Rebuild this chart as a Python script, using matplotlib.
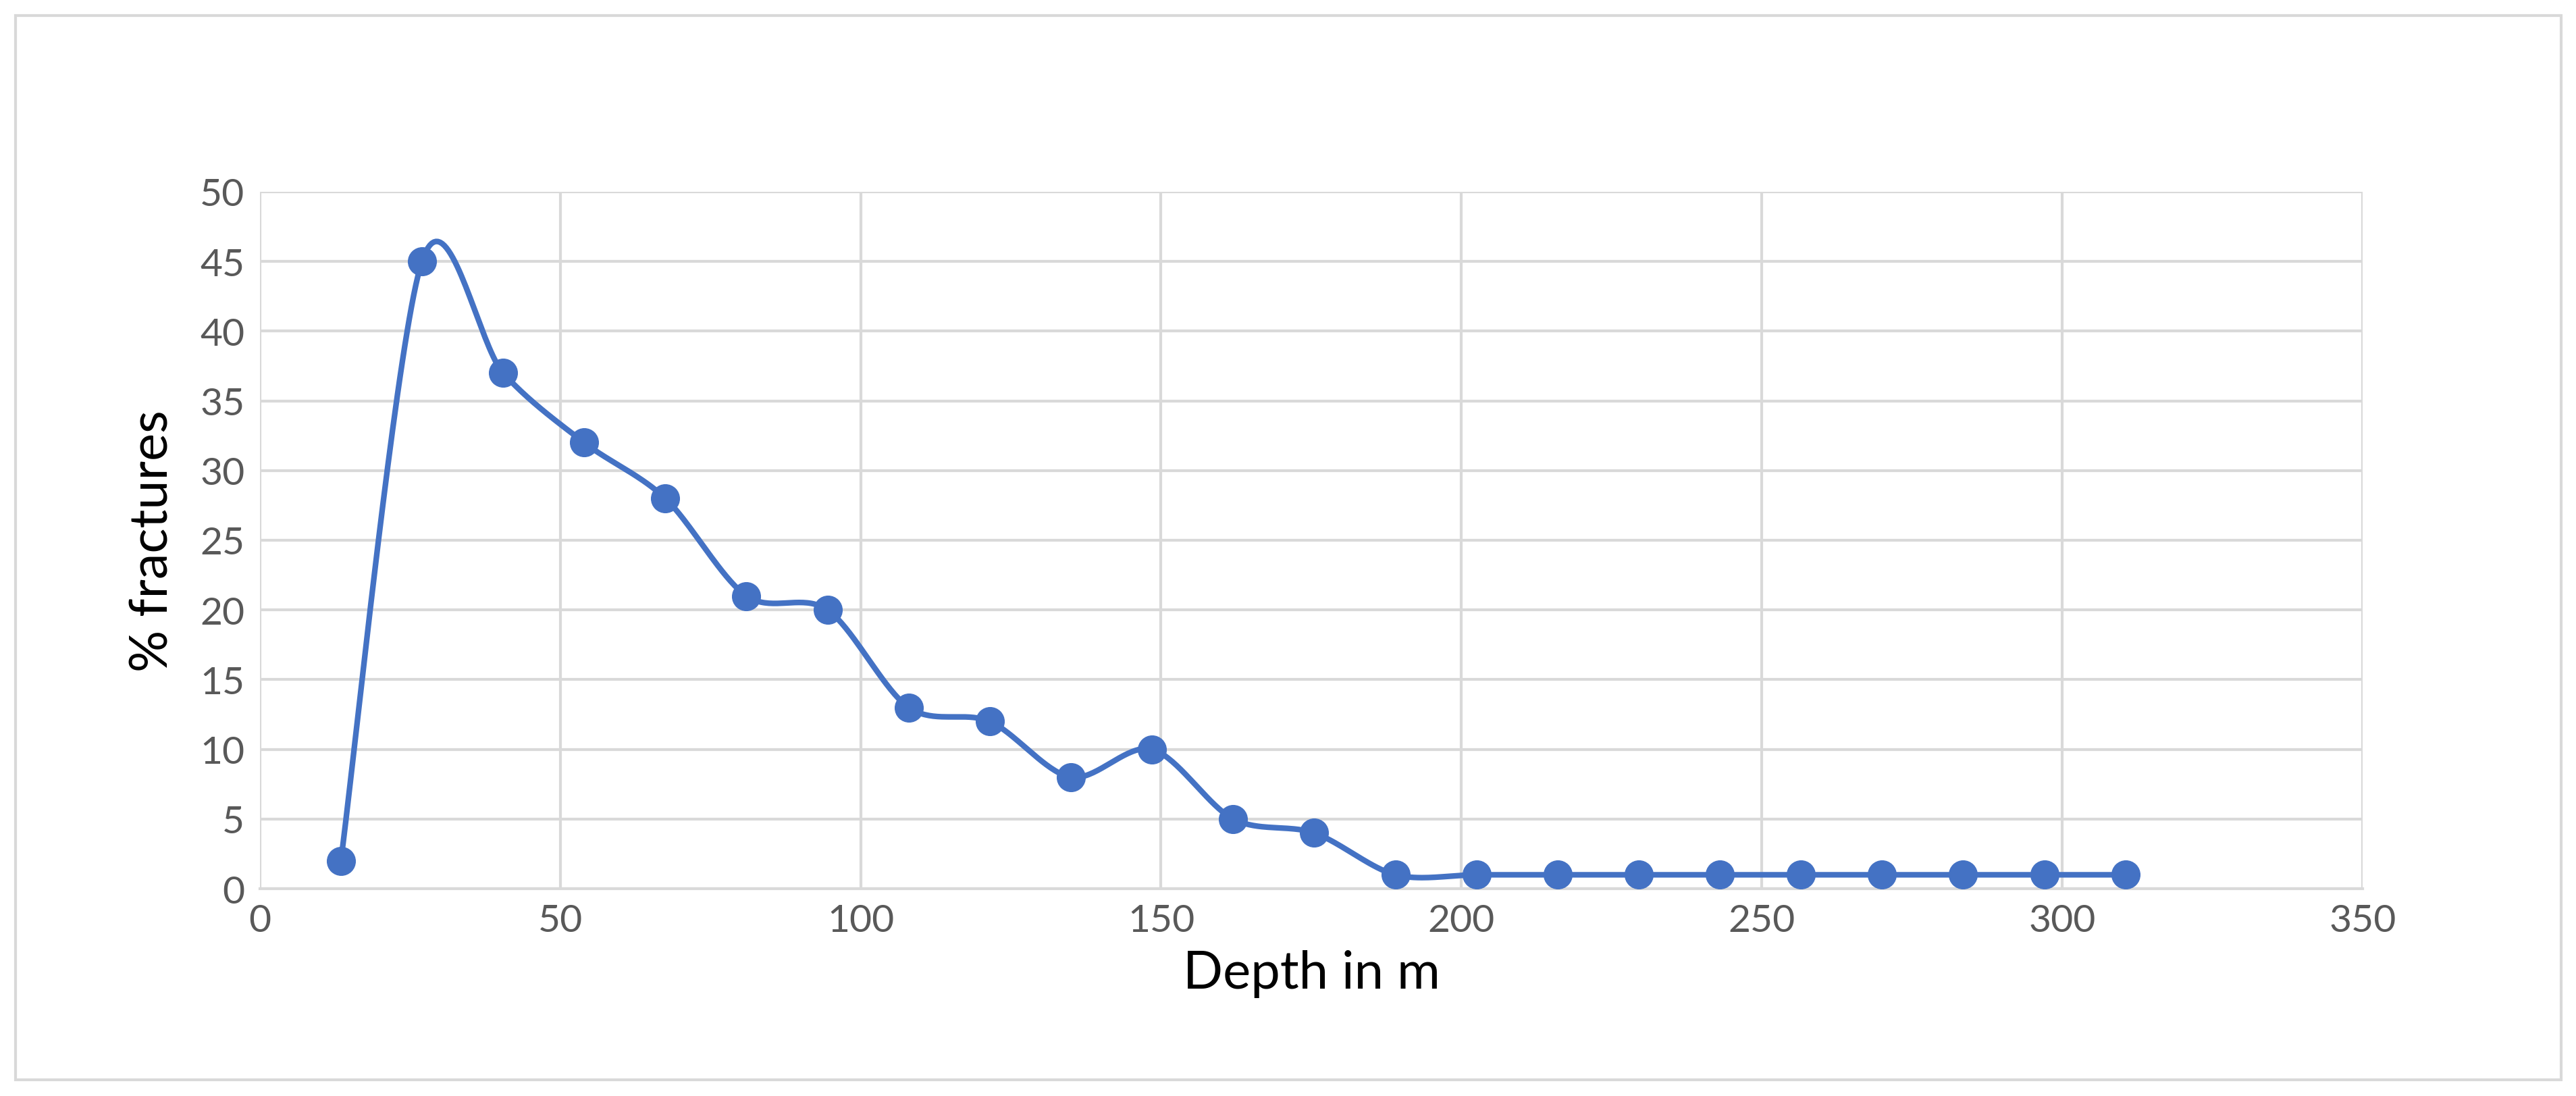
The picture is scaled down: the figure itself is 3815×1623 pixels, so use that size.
import numpy as np
import matplotlib
matplotlib.use("Agg")
import matplotlib.pyplot as plt
from matplotlib.patches import Rectangle

depth = [13.5, 27, 40.5, 54, 67.5, 81, 94.5, 108, 121.5, 135, 148.5, 162, 175.5,
         189, 202.5, 216, 229.5, 243, 256.5, 270, 283.5, 297, 310.5]
fractures = [2, 45, 37, 32, 28, 21, 20, 13, 12, 8, 10, 5, 4,
             1, 1, 1, 1, 1, 1, 1, 1, 1, 1]

def smooth(x, y, n=40):
    x = np.asarray(x, float); y = np.asarray(y, float)
    px = np.concatenate([[x[0]], x, [x[-1]]]); py = np.concatenate([[y[0]], y, [y[-1]]])
    xs, ys = [], []
    for i in range(1, len(px) - 2):
        p0, p1, p2, p3 = (np.array([px[j], py[j]]) for j in (i - 1, i, i + 1, i + 2))
        c1 = p1 + (p2 - p0) / 6.5; c2 = p2 - (p3 - p1) / 6.5
        t = np.linspace(0, 1, n)[:, None]
        b = (1-t)**3*p1 + 3*(1-t)**2*t*c1 + 3*(1-t)*t**2*c2 + t**3*p2
        xs.extend(b[:, 0]); ys.extend(b[:, 1])
    return xs, ys

plt.rcParams['font.family'] = ['Lato', 'DejaVu Sans']
fig = plt.figure(figsize=(38.16, 16.24), dpi=100)
fig.patches.append(Rectangle((0.006, 0.015), 0.988, 0.97, transform=fig.transFigure,
                             fill=False, edgecolor='#D9D9D9', linewidth=3))
ax = fig.add_axes([0.1008, 0.189, 0.8162, 0.6356])
sx, sy = smooth(depth, fractures)
ax.plot(sx, sy, color='#4472C4', linewidth=6, zorder=3)
ax.plot(depth, fractures, 'o', color='#4472C4', markersize=30, zorder=4)
ax.set_xlim(0, 350); ax.set_ylim(0, 50)
ax.set_xticks(range(0, 351, 50)); ax.set_yticks(range(0, 51, 5))
ax.grid(True, color='#D9D9D9', linewidth=3)
ax.set_axisbelow(True)
for s in ['top', 'right', 'left']:
    ax.spines[s].set_visible(False)
ax.spines['bottom'].set_color('#D9D9D9'); ax.spines['bottom'].set_linewidth(3)
ax.tick_params(length=0, labelsize=41, labelcolor='#595959', pad=16)
ax.set_xlabel('Depth in m', fontsize=56, labelpad=12)
ax.set_ylabel('% fractures', fontsize=56, labelpad=24)
fig.savefig('out.png', dpi=100)
